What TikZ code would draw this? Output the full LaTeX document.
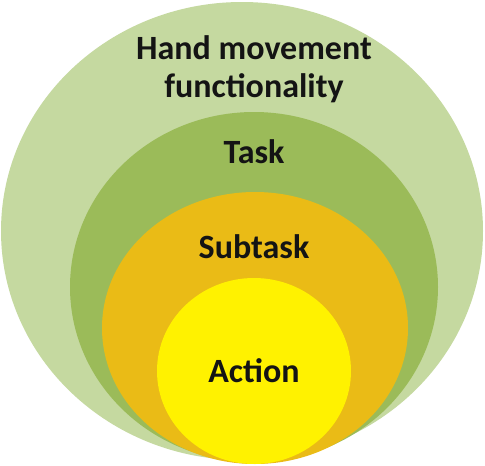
\documentclass[tikz,border=0pt]{standalone}
\usepackage{fontspec}
\setmainfont{Carlito}
\begin{document}
\begin{tikzpicture}[x=1pt,y=-1pt,
  lbl/.style={font=\bfseries\fontsize{34}{38}\selectfont, text=black!92, align=center, inner sep=0pt}]
\definecolor{outergreen}{RGB}{197,217,160}
\definecolor{taskgreen}{RGB}{155,187,89}
\definecolor{subgold}{RGB}{234,187,22}
\definecolor{actyellow}{RGB}{255,242,0}
\useasboundingbox[fill=white] (0,0) rectangle (485,466);
% nested levels, all resting on the same bottom line
\fill[outergreen] (242,231) ellipse [x radius=241, y radius=229];
\fill[taskgreen]  (254,287) ellipse [x radius=184, y radius=175];
\fill[subgold]    (255,328) ellipse [x radius=153, y radius=136];
\fill[actyellow]  (254,371) ellipse [x radius=97, y radius=93];
% level labels
\node[lbl] (hand) at (254,69) {Hand movement\\functionality};
\node[lbl] (task) at (254,152) {Task};
\node[lbl] (subtask) at (254,247) {Subtask};
\node[lbl] (action) at (254,371) {Action};
\end{tikzpicture}
\end{document}
